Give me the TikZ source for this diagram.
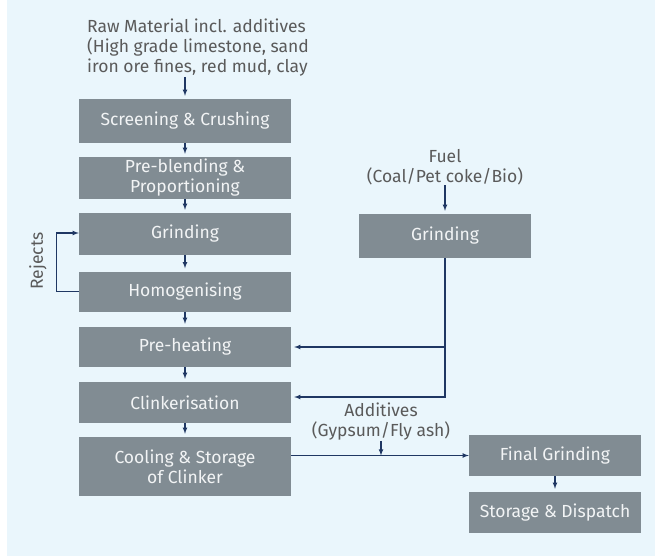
\documentclass[tikz,border=0pt]{standalone}
\usepackage{fontspec}
\setmainfont{Fira Sans}
\usetikzlibrary{arrows,positioning}
\definecolor{bgblue}{HTML}{EAF6FC}
\definecolor{boxgrey}{HTML}{818C93}
\definecolor{flowblue}{HTML}{1F3763}
\definecolor{labgrey}{HTML}{5A5A5A}
\definecolor{boxtext}{HTML}{F2F4F5}

\begin{document}
\begin{tikzpicture}[x=1pt,y=-1pt,
            procbox/.style={fill=boxgrey,text=boxtext,minimum width=212pt,minimum height=42pt,align=center,inner sep=0pt,font=\fontsize{17.5}{20}\selectfont},
            sidebox/.style={procbox,minimum width=172pt},
            lab/.style={text=labgrey,inner sep=0pt,font=\fontsize{17.5}{20}\selectfont},
            flow/.style={draw=flowblue,->,>=latex,line width=1.1pt},
            link/.style={flow,shorten >=3pt}
          ]
          \fill[bgblue] (7,0) rectangle (655,556);
          \useasboundingbox (0,0) rectangle (655,557);

          %main line
          \node[procbox,minimum height=44pt] (screen) at (185,121) {Screening \& Crushing};
          \node[procbox] (blend) at (185,178) {Pre-blending \&\\Proportioning};
          \node[procbox] (grind) at (185,234) {Grinding};
          \node[procbox,minimum height=40pt] (homog) at (185,291.5) {Homogenising};
          \node[procbox,minimum height=40pt] (preheat) at (185,347) {Pre-heating};
          \node[procbox,minimum height=41pt] (clink) at (185,402.5) {Clinkerisation};
          \node[procbox,minimum height=59pt] (cool) at (185,466.5) {Cooling \& Storage\\of Clinker};

          %fuel and cement
          \node[sidebox,minimum height=44pt] (fgrind) at (445,236) {Grinding};
          \node[sidebox,minimum height=41pt] (final) at (555,455.5) {Final Grinding};
          \node[sidebox,minimum height=41pt] (store) at (555,512.5) {Storage \& Dispatch};

          %labels
          \node[lab,align=left,anchor=west] (raw) at (87,48) {Raw Material incl. additives\\(High grade limestone, sand\\iron ore fines, red mud, clay};
          \node[lab,align=center] (fuel) at (445,167) {Fuel\\(Coal/Pet coke/Bio)};
          \node[lab,align=center] (addit) at (381,422) {Additives\\(Gypsum/Fly ash)};
          \node[lab,rotate=90] (rejects) at (38,261) {Rejects};

          %flow
          \draw[link] (screen.north |- raw.south) -- (screen.north);
          \draw[link] (screen) -- (blend);
          \draw[link] (blend) -- (grind);
          \draw[link] (grind) -- (homog);
          \draw[link] (homog) -- (preheat);
          \draw[link] (preheat) -- (clink);
          \draw[link] (clink) -- (cool);
          \draw[flow] (homog.west) -- ++(-22,0) |- ([yshift=1pt]grind.west);
          \draw[link] (fuel) -- (fgrind);
          \draw[link] (fgrind.south) |- ([yshift=5.5pt]clink.east);
          \draw[link] (fgrind.south |- preheat.east) -- (preheat.east);
          \draw[flow] (cool.east |- final.west) -- (final.west);
          \draw[flow] (addit) -- (addit |- final.west);
          \draw[link] (final) -- (store);
      \end{tikzpicture}
\end{document}
